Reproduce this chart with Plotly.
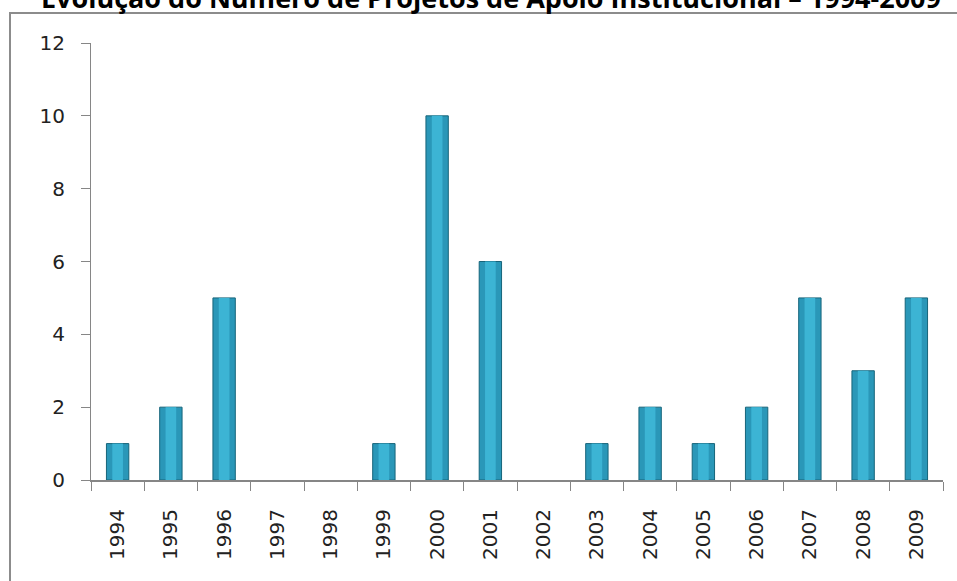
import plotly.graph_objects as go

years = ["1994", "1995", "1996", "1997", "1998", "1999", "2000", "2001",
         "2002", "2003", "2004", "2005", "2006", "2007", "2008", "2009"]
projetos = [1, 2, 5, 0, 0, 1, 10, 6, 0, 1, 2, 1, 2, 5, 3, 5]
title_text = "Evolução do Número de Projetos de Apoio Institucional – 1994-2009"

W, H = 957, 581
L, R, T, B = 91, 14, 43, 101
pw, ph = W - L - R, H - T - B

def px_x(p):
    return (p - L) / pw

def px_y(p):
    return (H - B - p) / ph

outline = [1 if v > 0 else 0 for v in projetos]

fig = go.Figure()
fig.add_trace(go.Bar(
    x=years, y=projetos, width=0.42,
    marker=dict(color="#2A97B8", line=dict(color="#17647A", width=outline)),
    hoverinfo="x+y",
))
fig.add_trace(go.Bar(
    x=years, y=projetos, width=0.2,
    marker=dict(color="#3CB4D4", line=dict(width=0)),
    hoverinfo="skip",
))

tick_font = dict(family="DejaVu Sans", size=20, color="#222222")

fig.update_layout(
    width=W, height=H,
    margin=dict(l=L, r=R, t=T, b=B),
    paper_bgcolor="white", plot_bgcolor="white",
    barmode="overlay", showlegend=False,
    xaxis=dict(
        type="category", tickson="boundaries", ticks="outside", ticklen=9,
        tickcolor="#868686", showline=True, linecolor="#868686", linewidth=2,
        showgrid=False, tickangle=-90, ticklabelstandoff=19,
        tickfont=tick_font,
    ),
    yaxis=dict(
        range=[0, 12], dtick=2, ticks="outside", ticklen=9, tickcolor="#868686",
        showline=True, linecolor="#868686", linewidth=1, showgrid=False,
        zeroline=False, ticklabelstandoff=12,
        tickfont=tick_font,
    ),
    shapes=[dict(
        type="rect", xref="paper", yref="paper",
        x0=px_x(10), x1=px_x(965), y0=px_y(590), y1=px_y(13),
        line=dict(color="#8C8C8C", width=2), layer="below",
    )],
    annotations=[dict(
        text="<b>" + title_text + "</b>", xref="paper", yref="paper",
        x=px_x(491), y=px_y(18), xanchor="center", yanchor="bottom",
        showarrow=False, font=dict(family="Open Sans", size=27, color="#000000"),
    )],
)

fig.write_html("out.html")
